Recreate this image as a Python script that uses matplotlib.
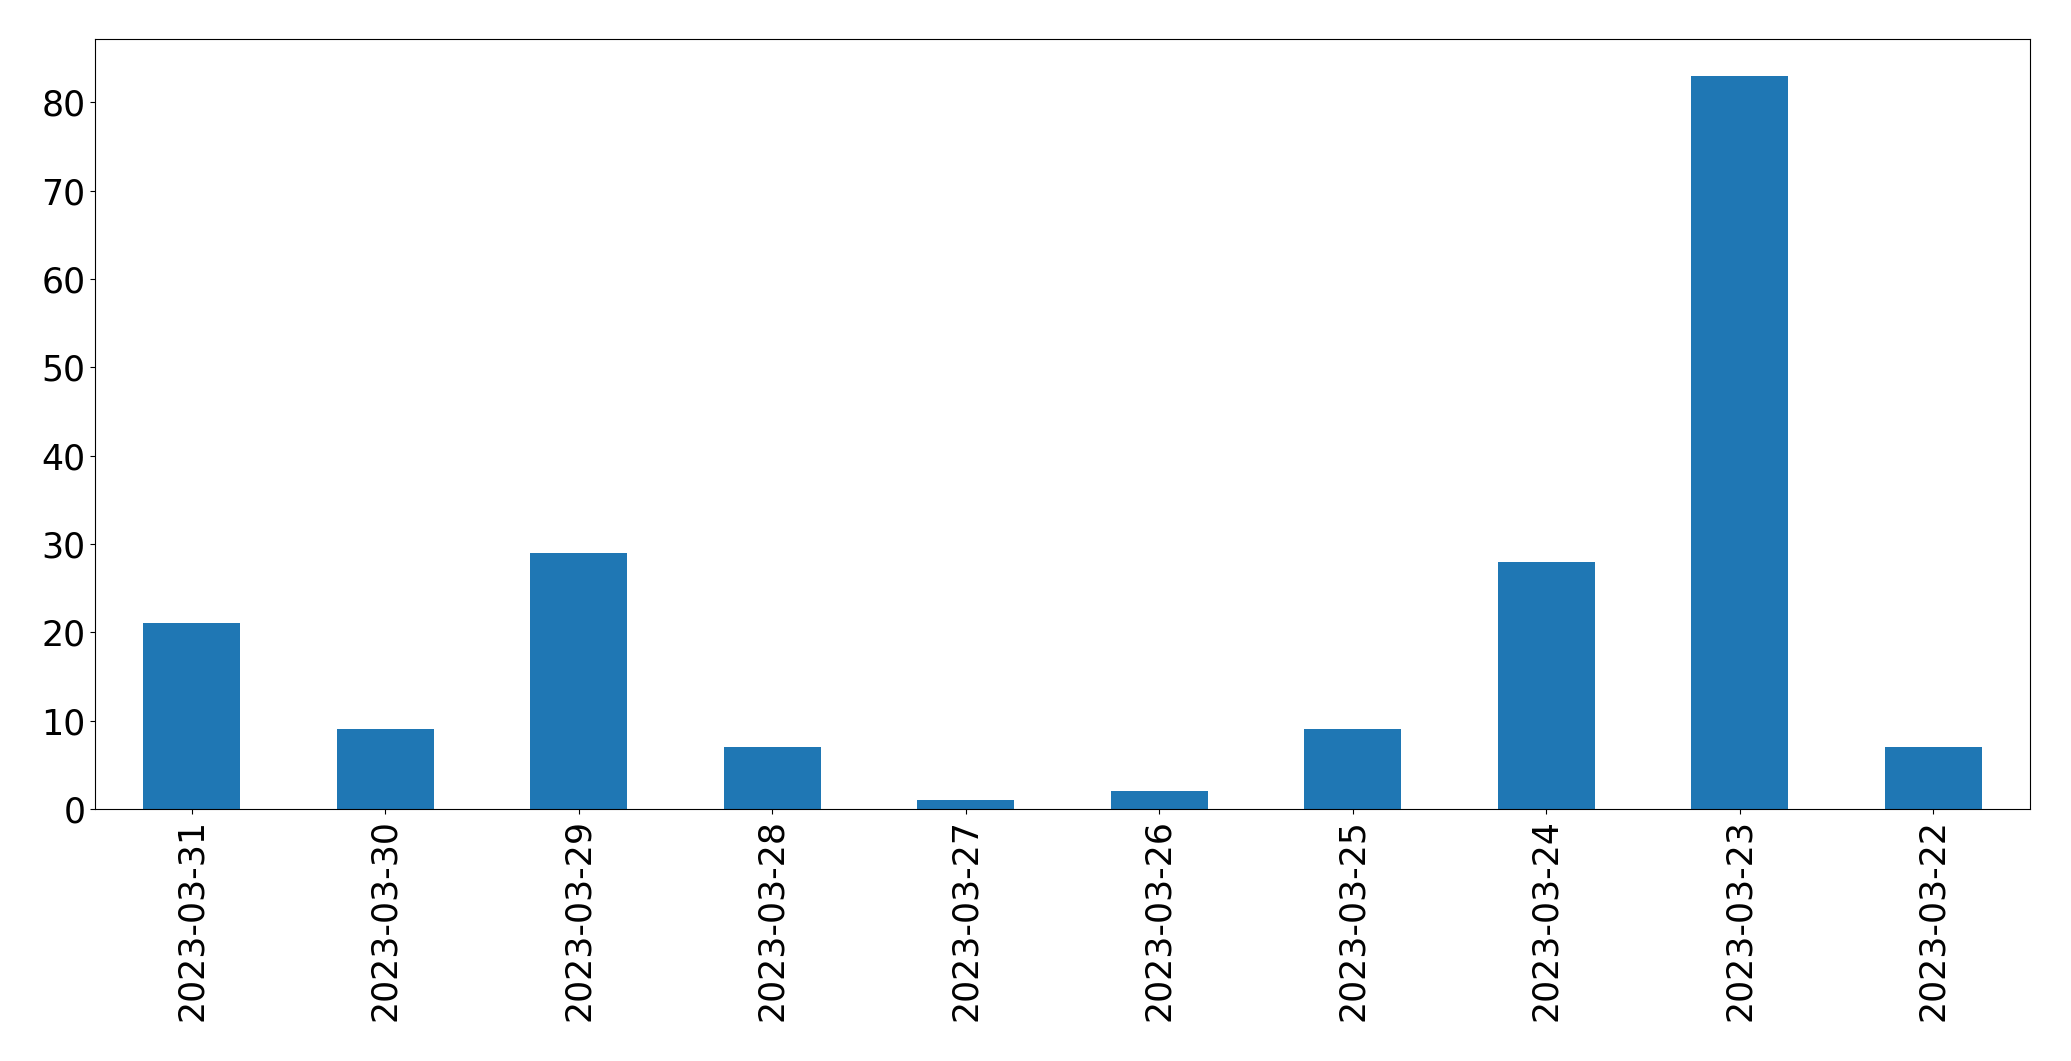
import matplotlib
matplotlib.use("Agg")
import matplotlib.pyplot as plt
import pandas as pd

dates = ["2023-03-31", "2023-03-30", "2023-03-29", "2023-03-28", "2023-03-27",
         "2023-03-26", "2023-03-25", "2023-03-24", "2023-03-23", "2023-03-22"]
counts = [21, 9, 29, 7, 1, 2, 9, 28, 83, 7]

s = pd.Series(counts, index=dates)

fig = plt.figure(figsize=(20.71, 10.61), dpi=100)
ax = fig.add_axes([0.0459, 0.2375, 0.9343, 0.7257])
s.plot(kind="bar", ax=ax, color="#1f77b4")
ax.tick_params(axis="both", labelsize=25)
fig.savefig("out.png", dpi=100)
